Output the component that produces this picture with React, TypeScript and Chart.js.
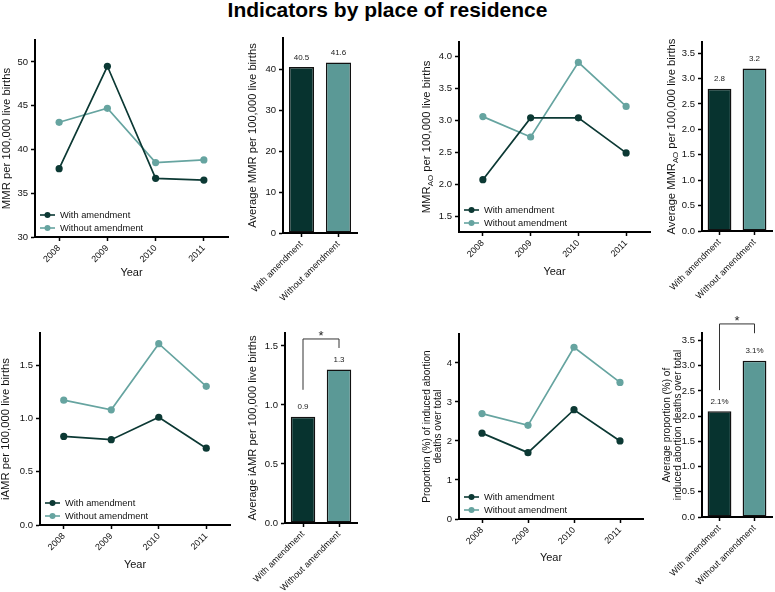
import React, { useEffect, useRef } from 'react';
import { Chart, registerables } from 'chart.js';

Chart.register(...registerables);

// ---------------- data ----------------
const years = ['2008', '2009', '2010', '2011'];
const groups = ['With amendment', 'Without amendment'];

const mmrWith = [37.8, 49.5, 36.7, 36.5];
const mmrWithout = [43.1, 44.7, 38.5, 38.8];
const mmrAverage = [40.5, 41.6];

const mmrAoWith = [2.07, 3.04, 3.04, 2.49];
const mmrAoWithout = [3.06, 2.74, 3.91, 3.22];
const mmrAoAverage = [2.8, 3.2];

const iamrWith = [0.83, 0.8, 1.01, 0.72];
const iamrWithout = [1.17, 1.08, 1.7, 1.3];
const iamrAverage = [0.9, 1.3];

const propWith = [2.2, 1.7, 2.8, 2.0];
const propWithout = [2.7, 2.4, 4.4, 3.5];
const propAverage = [2.1, 3.1];

const mmrTicks = [30, 35, 40, 45, 50];
const mmrAverageTicks = [0, 10, 20, 30, 40];
const mmrAoTicks = [1.5, 2.0, 2.5, 3.0, 3.5, 4.0];
const mmrAoAverageTicks = [0, 0.5, 1.0, 1.5, 2.0, 2.5, 3.0, 3.5];
const iamrTicks = [0, 0.5, 1.0, 1.5];
const iamrAverageTicks = [0, 0.5, 1.0, 1.5];
const propTicks = [0, 1, 2, 3, 4];
const propAverageTicks = [0, 0.5, 1.0, 1.5, 2.0, 2.5, 3.0, 3.5];

const chartTitle = 'Indicators by place of residence';
const yearTitle = 'Year';

// ---------------- styles ----------------
const W = 775;
const H = 592;
const FONT = "'Liberation Sans', Arial, Helvetica, sans-serif";
const DARK_LINE = '#0c3934';
const LIGHT_LINE = '#66a4a0';
const DARK_BAR = '#07332f';
const LIGHT_BAR = '#5b9996';
const INK = '#111';

const border = { display: true, color: '#000', width: 2 };
const tickGrid = {
  display: true,
  drawOnChartArea: false,
  drawTicks: true,
  tickLength: 4,
  tickWidth: 1.5,
  tickColor: '#000',
  color: '#000',
  offset: false,
};

type Box = { l: number; t: number; r: number; b: number };
type Sub = { pre: string; sub: string; post: string };

type LinePanel = {
  box: Box;
  yMin: number;
  yMax: number;
  ticks: number[];
  decimals: number;
  withData: number[];
  withoutData: number[];
  yTitle: string | string[];
  yTitleSize: number;
  yTitleX: number;
  sub?: Sub;
  yearY: number;
};

type BarPanel = {
  box: Box;
  yMax: number;
  ticks: number[];
  decimals: number;
  values: number[];
  suffix: string;
  yTitle: string | string[];
  yTitleSize: number;
  yTitleX: number;
  sub?: Sub;
  bracket?: { left: number; right: number; top: number };
};

const subTitlePlugin = (sub: Sub | undefined, x: number, size: number) => ({
  id: 'subTitle',
  afterDraw(chart: any) {
    if (!sub) return;
    const { ctx, chartArea } = chart;
    const cy = (chartArea.top + chartArea.bottom) / 2;
    const main = `${size}px ${FONT}`;
    const small = `${size * 0.7}px ${FONT}`;
    ctx.save();
    ctx.font = main;
    const w1 = ctx.measureText(sub.pre).width;
    const w3 = ctx.measureText(sub.post).width;
    ctx.font = small;
    const w2 = ctx.measureText(sub.sub).width;
    const total = w1 + w2 + w3;
    ctx.translate(x, cy);
    ctx.rotate(-Math.PI / 2);
    ctx.fillStyle = INK;
    ctx.textBaseline = 'middle';
    ctx.textAlign = 'left';
    let cx = -total / 2;
    ctx.font = main;
    ctx.fillText(sub.pre, cx, 0);
    cx += w1;
    ctx.font = small;
    ctx.fillText(sub.sub, cx, size * 0.3);
    cx += w2;
    ctx.font = main;
    ctx.fillText(sub.post, cx, 0);
    ctx.restore();
  },
});

const insideLegend = {
  id: 'insideLegend',
  afterDraw(chart: any) {
    const { ctx, chartArea } = chart;
    const x0 = chartArea.left + 5;
    ctx.save();
    chart.data.datasets.forEach((ds: any, i: number) => {
      const y = chartArea.bottom - 22 + i * 13;
      ctx.strokeStyle = ds.borderColor;
      ctx.lineWidth = 1.6;
      ctx.beginPath();
      ctx.moveTo(x0, y);
      ctx.lineTo(x0 + 15, y);
      ctx.stroke();
      ctx.fillStyle = ds.borderColor;
      ctx.beginPath();
      ctx.arc(x0 + 7.5, y, 3, 0, Math.PI * 2);
      ctx.fill();
      ctx.fillStyle = INK;
      ctx.font = `9.3px ${FONT}`;
      ctx.textAlign = 'left';
      ctx.textBaseline = 'middle';
      ctx.fillText(ds.label, x0 + 20, y);
    });
    ctx.restore();
  },
};

function yScale(min: number, max: number, ticks: number[], decimals: number, title: any, yw: number) {
  return {
    type: 'linear',
    min,
    max,
    bounds: 'data',
    afterBuildTicks: (s: any) => {
      s.ticks = ticks.map((v) => ({ value: v }));
    },
    afterFit: (s: any) => {
      s.width = yw;
    },
    ticks: {
      autoSkip: false,
      padding: 3,
      color: INK,
      font: { family: FONT, size: 9.5 },
      callback: (v: any) => Number(v).toFixed(decimals),
    },
    grid: tickGrid,
    border,
    title,
  };
}

function lineConfig(p: LinePanel): any {
  const lh = p.yTitleSize * 1.1;
  const padLeft = Math.max(0, p.yTitleX - lh / 2);
  const yw = p.box.l - padLeft;
  const xTitleLH = 11 * 1.2;
  const xh = p.yearY - p.box.b + xTitleLH / 2;
  const mk = (label: string, data: number[], color: string) => ({
    label,
    data,
    borderColor: color,
    backgroundColor: color,
    pointBackgroundColor: color,
    pointBorderColor: color,
    pointBorderWidth: 0,
    pointRadius: 3.6,
    pointHoverRadius: 3.6,
    borderWidth: 1.7,
    tension: 0,
  });
  return {
    type: 'line',
    data: {
      labels: years,
      datasets: [mk(groups[0], p.withData, DARK_LINE), mk(groups[1], p.withoutData, LIGHT_LINE)],
    },
    options: {
      responsive: false,
      animation: false,
      devicePixelRatio: 1,
      events: [],
      layout: { padding: { left: padLeft, top: p.box.t, right: W - p.box.r, bottom: H - p.box.b - xh } },
      plugins: { legend: { display: false }, tooltip: { enabled: false }, title: { display: false } },
      scales: {
        x: {
          type: 'category',
          offset: true,
          afterFit: (s: any) => {
            s.height = xh;
          },
          ticks: {
            autoSkip: false,
            minRotation: 45,
            maxRotation: 45,
            padding: 2,
            color: INK,
            font: { family: FONT, size: 9 },
          },
          grid: tickGrid,
          border,
          title: {
            display: true,
            text: yearTitle,
            color: INK,
            padding: 0,
            font: { family: FONT, size: 11, lineHeight: 1.2 },
          },
        },
        y: yScale(
          p.yMin,
          p.yMax,
          p.ticks,
          p.decimals,
          {
            display: !p.sub,
            text: p.yTitle,
            color: INK,
            padding: 0,
            font: { family: FONT, size: p.yTitleSize, lineHeight: 1.1 },
          },
          yw
        ),
      },
    },
    plugins: [insideLegend, subTitlePlugin(p.sub, p.yTitleX, p.yTitleSize)],
  };
}

function barAnnotations(p: BarPanel) {
  return {
    id: 'barAnnotations',
    afterDatasetsDraw(chart: any) {
      const ctx = chart.ctx;
      const bars = chart.getDatasetMeta(0).data;
      ctx.save();
      ctx.font = `8px ${FONT}`;
      ctx.fillStyle = '#222';
      ctx.textAlign = 'center';
      ctx.textBaseline = 'middle';
      bars.forEach((bar: any, i: number) => {
        ctx.fillText(p.values[i].toFixed(1) + p.suffix, bar.x, bar.y - 9.5);
      });
      if (p.bracket) {
        const [b0, b1] = bars;
        const top = Math.min(b0.y, b1.y) - p.bracket.top;
        ctx.strokeStyle = '#333';
        ctx.lineWidth = 1;
        ctx.beginPath();
        ctx.moveTo(b0.x, b0.y - p.bracket.left);
        ctx.lineTo(b0.x, top);
        ctx.lineTo(b1.x, top);
        ctx.lineTo(b1.x, b1.y - p.bracket.right);
        ctx.stroke();
        ctx.fillStyle = '#222';
        ctx.font = `13px ${FONT}`;
        ctx.textBaseline = 'alphabetic';
        ctx.fillText('*', (b0.x + b1.x) / 2, top + 1);
      }
      ctx.restore();
    },
  };
}

function barConfig(p: BarPanel): any {
  const lh = p.yTitleSize * 1.1;
  const padLeft = Math.max(0, p.yTitleX - lh / 2);
  const yw = p.box.l - padLeft;
  const xh = 80;
  return {
    type: 'bar',
    data: {
      labels: groups,
      datasets: [
        {
          data: p.values,
          backgroundColor: [DARK_BAR, LIGHT_BAR],
          borderColor: '#111',
          borderWidth: 1.5,
          borderSkipped: false,
          barPercentage: 0.68,
          categoryPercentage: 1,
        },
      ],
    },
    options: {
      responsive: false,
      animation: false,
      devicePixelRatio: 1,
      events: [],
      layout: { padding: { left: padLeft, top: p.box.t, right: W - p.box.r, bottom: H - p.box.b - xh } },
      plugins: { legend: { display: false }, tooltip: { enabled: false }, title: { display: false } },
      scales: {
        x: {
          type: 'category',
          offset: true,
          afterFit: (s: any) => {
            s.height = xh;
          },
          ticks: {
            autoSkip: false,
            minRotation: 45,
            maxRotation: 45,
            padding: 2,
            color: INK,
            font: { family: FONT, size: 9 },
          },
          grid: tickGrid,
          border,
        },
        y: yScale(
          0,
          p.yMax,
          p.ticks,
          p.decimals,
          {
            display: !p.sub,
            text: p.yTitle,
            color: INK,
            padding: 0,
            font: { family: FONT, size: p.yTitleSize, lineHeight: 1.1 },
          },
          yw
        ),
      },
    },
    plugins: [barAnnotations(p), subTitlePlugin(p.sub, p.yTitleX, p.yTitleSize)],
  };
}

const panels: any[] = [
  lineConfig({
    box: { l: 35, t: 40, r: 228, b: 237 },
    yMin: 30,
    yMax: 52.5,
    ticks: mmrTicks,
    decimals: 0,
    withData: mmrWith,
    withoutData: mmrWithout,
    yTitle: 'MMR per 100,000 live births',
    yTitleSize: 11.3,
    yTitleX: 6.5,
    yearY: 273,
  }),
  barConfig({
    box: { l: 283, t: 38, r: 357, b: 233 },
    yMax: 47.6,
    ticks: mmrAverageTicks,
    decimals: 0,
    values: mmrAverage,
    suffix: '',
    yTitle: 'Average MMR per 100,000 live births',
    yTitleSize: 11.2,
    yTitleX: 253,
  }),
  lineConfig({
    box: { l: 459, t: 42, r: 650, b: 232 },
    yMin: 1.25,
    yMax: 4.23,
    ticks: mmrAoTicks,
    decimals: 1,
    withData: mmrAoWith,
    withoutData: mmrAoWithout,
    yTitle: 'MMR AO per 100,000 live births',
    yTitleSize: 11.3,
    yTitleX: 427,
    sub: { pre: 'MMR', sub: 'AO', post: ' per 100,000 live births' },
    yearY: 272,
  }),
  barConfig({
    box: { l: 702, t: 42, r: 772, b: 231 },
    yMax: 3.72,
    ticks: mmrAoAverageTicks,
    decimals: 1,
    values: mmrAoAverage,
    suffix: '',
    yTitle: 'Average MMR AO per 100,000 live births',
    yTitleSize: 11.2,
    yTitleX: 672,
    sub: { pre: 'Average MMR', sub: 'AO', post: ' per 100,000 live births' },
  }),
  lineConfig({
    box: { l: 40, t: 333, r: 230, b: 525 },
    yMin: 0,
    yMax: 1.8,
    ticks: iamrTicks,
    decimals: 1,
    withData: iamrWith,
    withoutData: iamrWithout,
    yTitle: 'iAMR per 100,000 live births',
    yTitleSize: 11.3,
    yTitleX: 6,
    yearY: 565,
  }),
  barConfig({
    box: { l: 285, t: 333, r: 357, b: 523 },
    yMax: 1.61,
    ticks: iamrAverageTicks,
    decimals: 1,
    values: iamrAverage,
    suffix: '',
    yTitle: 'Average iAMR per 100,000 live births',
    yTitleSize: 11.2,
    yTitleX: 253,
    bracket: { left: 27, right: 21.6, top: 30.6 },
  }),
  lineConfig({
    box: { l: 459, t: 334, r: 643, b: 519 },
    yMin: 0,
    yMax: 4.74,
    ticks: propTicks,
    decimals: 0,
    withData: propWith,
    withoutData: propWithout,
    yTitle: ['Proportion (%) of induced abortion', 'deaths over total'],
    yTitleSize: 10,
    yTitleX: 427,
    yearY: 558,
  }),
  barConfig({
    box: { l: 702, t: 333, r: 772, b: 517 },
    yMax: 3.65,
    ticks: propAverageTicks,
    decimals: 1,
    values: propAverage,
    suffix: '%',
    yTitle: ['Average proportion (%) of', 'induced abortion deaths over total'],
    yTitleSize: 10,
    yTitleX: 667,
    bracket: { left: 21, right: 27.5, top: 36.8 },
  }),
];

function ChartCanvas({ config }: { config: any }) {
  const ref = useRef<HTMLCanvasElement>(null);
  useEffect(() => {
    const chart = new Chart(ref.current as HTMLCanvasElement, config);
    return () => chart.destroy();
  }, [config]);
  return (
    <canvas
      ref={ref}
      width={W}
      height={H}
      style={{ position: 'absolute', left: 0, top: 0, width: W, height: H }}
    />
  );
}

export default function App() {
  return (
    <div
      style={{
        position: 'fixed',
        left: 0,
        top: 0,
        width: W,
        height: H,
        background: '#fff',
        overflow: 'hidden',
      }}
    >
      <div
        style={{
          position: 'absolute',
          left: 0,
          top: -2.5,
          width: W,
          textAlign: 'center',
          fontFamily: FONT,
          fontWeight: 'bold',
          fontSize: 21,
          lineHeight: '24px',
          color: '#000',
        }}
      >
        {chartTitle}
      </div>
      {panels.map((cfg, i) => (
        <ChartCanvas key={i} config={cfg} />
      ))}
    </div>
  );
}
